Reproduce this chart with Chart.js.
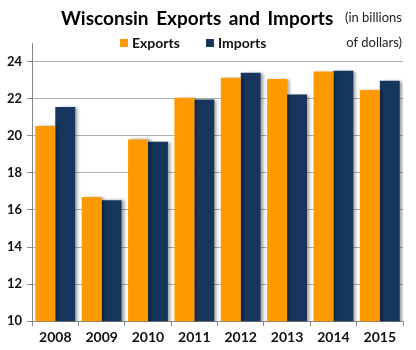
<!DOCTYPE html>
<html>
<head>
<meta charset="utf-8">
<script src="https://cdn.jsdelivr.net/npm/chart.js@4/dist/chart.umd.min.js"></script>
<style>
  body { margin: 0; background: #fff; }
  .wrap { position: relative; width: 416px; height: 350px; font-family: Lato, 'Open Sans', sans-serif; }
  .title { position: absolute; left: 61px; top: 6px; font-size: 19px; font-weight: bold; color: #000; word-spacing: 3px; white-space: nowrap; }
  .note { position: absolute; right: 14px; top: 5px; font-size: 13px; color: #222; text-align: right; line-height: 25px; }
  .legend { position: absolute; left: 120px; top: 34px; font-size: 14px; font-weight: bold; color: #111; white-space: nowrap; }
  .legend span { display: inline-block; margin-right: 26px; }
  .legend i { display: inline-block; width: 8px; height: 8px; margin-right: 4px; vertical-align: 1px; }
  canvas { position: absolute; left: 0; top: 0; }
</style>
</head>
<body>
<div class="wrap">
  <canvas id="tradeChart" width="416" height="350"></canvas>
  <div class="title">Wisconsin Exports and Imports</div>
  <div class="note">(in billions<br>of dollars)</div>
  <div class="legend" id="legend"></div>
</div>
<script>
// data
const years = ['2008', '2009', '2010', '2011', '2012', '2013', '2014', '2015'];
const exportsData = [20.52, 16.7, 19.8, 22.05, 23.12, 23.06, 23.46, 22.47];
const importsData = [21.55, 16.52, 19.67, 21.95, 23.39, 22.22, 23.51, 22.96];
const yTicks = [10, 12, 14, 16, 18, 20, 22, 24];

const orange = '#FF9900';
const navy = '#17365D';

// soft shadow to the right of each bar
const barShadow = {
    id: 'barShadow',
    beforeDatasetsDraw(chart) {
        const ctx = chart.ctx;
        ctx.save();
        ctx.shadowColor = 'rgba(0, 0, 0, 0.35)';
        ctx.shadowBlur = 3;
        ctx.shadowOffsetX = 3;
        ctx.shadowOffsetY = 0;
    },
    afterDatasetsDraw(chart) {
        chart.ctx.restore();
    }
};

const chart = new Chart(document.getElementById('tradeChart').getContext('2d'), {
    type: 'bar',
    data: {
        labels: years,
        datasets: [
            { label: 'Exports', data: exportsData, backgroundColor: orange, categoryPercentage: 0.86, barPercentage: 1 },
            { label: 'Imports', data: importsData, backgroundColor: navy, categoryPercentage: 0.86, barPercentage: 1 }
        ]
    },
    options: {
        responsive: false,
        animation: false,
        layout: { padding: { top: 43, left: 2, right: 13, bottom: 1 } },
        plugins: {
            legend: { display: false },
            title: { display: false },
            tooltip: { enabled: false }
        },
        scales: {
            y: {
                min: 10,
                max: 25,
                afterBuildTicks: axis => { axis.ticks = yTicks.map(v => ({ value: v })); },
                border: { color: '#888', width: 1 },
                grid: {
                    color: '#b0b0b0',
                    borderDash: [3, 3],
                    tickBorderDash: [],
                    tickColor: '#888',
                    tickLength: 5
                },
                ticks: {
                    color: '#111',
                    padding: 5,
                    font: { family: 'Lato', size: 13, weight: 'bold' }
                }
            },
            x: {
                border: { color: '#888', width: 1 },
                grid: { drawOnChartArea: false, tickColor: '#888', tickLength: 5 },
                ticks: {
                    color: '#111',
                    padding: 3,
                    font: { family: 'Lato', size: 14, weight: 'bold' }
                }
            }
        }
    },
    plugins: [barShadow]
});

// legend built from the datasets
document.getElementById('legend').innerHTML = chart.data.datasets.map(ds =>
    '<span><i style="background:' + ds.backgroundColor + '"></i>' + ds.label + '</span>'
).join('');
</script>
</body>
</html>
